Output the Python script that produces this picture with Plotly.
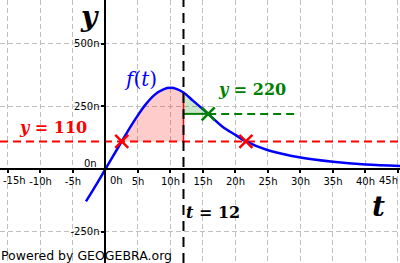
import plotly.graph_objects as go

# ---- data ----
t_vals = [-3, -2, -1, 0, 1, 2.5, 4, 5, 6, 7.5, 9, 10, 11, 12, 13.5, 15.8, 18, 20, 21.6, 25, 30, 35, 40, 45.5]
f_vals = [-129, -87, -44, 0, 44, 110, 175, 215, 252, 295, 319, 324, 319, 305, 272, 220, 169, 136, 110, 75, 46, 29, 18, 12]

x_ticks = [-15, -10, -5, 5, 10, 15, 20, 25, 30, 35, 40, 45]
x_ticktext = ["-15h", "-10h", "-5h", "5h", "10h", "15h", "20h", "25h", "30h", "35h", "40h", "45h"]
y_ticks = [-250, 250, 500]
y_ticktext = ["-250n", "250n", "500n"]

level_red = 110
level_green = 220
t_mark = 12
red_pts_t = [2.5, 21.6]
green_pt_t = 15.8
green_dash_end = 29.4

x_range = [-16.23, 45.31]
y_range = [-375.2, 674.6]

RED = "rgb(255,0,0)"
GREEN = "rgb(0,128,0)"
BLUE = "rgb(0,0,255)"

f_at = dict(zip(t_vals, f_vals))

fig = go.Figure()

# red shaded region between y=110 and f for 2.5 <= t <= 12
seg_r = [(t, f) for t, f in zip(t_vals, f_vals) if red_pts_t[0] <= t <= t_mark]
fig.add_trace(go.Scatter(x=[red_pts_t[0], t_mark], y=[level_red, level_red], mode="lines",
                         line=dict(width=0), hoverinfo="skip", showlegend=False))
fig.add_trace(go.Scatter(x=[p[0] for p in seg_r], y=[p[1] for p in seg_r], mode="lines",
                         line=dict(width=0, shape="spline"), fill="tonexty",
                         fillcolor="rgba(255,0,0,0.2)", hoverinfo="skip", showlegend=False))
# green shaded region between y=220 and f for 12 <= t <= 15.8
seg_g = [(t, f) for t, f in zip(t_vals, f_vals) if t_mark <= t <= green_pt_t]
fig.add_trace(go.Scatter(x=[t_mark, green_pt_t], y=[level_green, level_green], mode="lines",
                         line=dict(width=0), hoverinfo="skip", showlegend=False))
fig.add_trace(go.Scatter(x=[p[0] for p in seg_g], y=[p[1] for p in seg_g], mode="lines",
                         line=dict(width=0, shape="spline"), fill="tonexty",
                         fillcolor="rgba(0,128,0,0.2)", hoverinfo="skip", showlegend=False))

# red dashed line y=110
fig.add_trace(go.Scatter(x=x_range, y=[level_red, level_red], mode="lines",
                         line=dict(color=RED, width=2, dash="8px,5px"), showlegend=False))
# red vertical edge at t=12
fig.add_trace(go.Scatter(x=[t_mark, t_mark], y=[level_red, f_at[t_mark]], mode="lines",
                         line=dict(color=RED, width=1.5), showlegend=False))
# green solid segment + dashed continuation
fig.add_trace(go.Scatter(x=[t_mark, green_pt_t], y=[level_green, level_green], mode="lines",
                         line=dict(color=GREEN, width=2), showlegend=False))
fig.add_trace(go.Scatter(x=[green_pt_t, green_dash_end], y=[level_green, level_green], mode="lines",
                         line=dict(color=GREEN, width=2, dash="8px,5px"), showlegend=False))

# the curve f(t)
fig.add_trace(go.Scatter(x=t_vals, y=f_vals, mode="lines",
                         line=dict(color=BLUE, width=2.5, shape="spline"), showlegend=False))

# black dashed vertical t = 12
fig.add_trace(go.Scatter(x=[t_mark, t_mark], y=y_range, mode="lines",
                         line=dict(color="black", width=2, dash="10px,6px"), showlegend=False))

# markers
fig.add_trace(go.Scatter(x=red_pts_t, y=[level_red, level_red], mode="markers",
                         marker=dict(symbol="x-thin", size=13, line=dict(color=RED, width=2.5)),
                         showlegend=False))
fig.add_trace(go.Scatter(x=[green_pt_t], y=[level_green], mode="markers",
                         marker=dict(symbol="x-thin", size=13, line=dict(color=GREEN, width=2.5)),
                         showlegend=False))

xpos = (0 - x_range[0]) / (x_range[1] - x_range[0])
ypos = (0 - y_range[0]) / (y_range[1] - y_range[0])

tick_font = dict(family="DejaVu Sans", size=10, color="black")

fig.update_layout(
    width=400, height=263,
    margin=dict(l=0, r=0, t=0, b=0),
    paper_bgcolor="white", plot_bgcolor="white",
    xaxis=dict(range=x_range, tickvals=x_ticks, ticktext=x_ticktext,
               showgrid=True, gridcolor="rgb(192,192,192)", gridwidth=1, griddash="5px,3px",
               zeroline=False, showline=True, linecolor="black", linewidth=2,
               anchor="free", position=ypos, ticks="outside", ticklen=3, tickwidth=1.5,
               tickcolor="black", tickfont=tick_font, fixedrange=True),
    yaxis=dict(range=y_range, tickvals=y_ticks, ticktext=y_ticktext,
               showgrid=True, gridcolor="rgb(192,192,192)", gridwidth=1, griddash="5px,3px",
               zeroline=False, showline=True, linecolor="black", linewidth=2,
               anchor="free", position=xpos, ticks="outside", ticklen=3, tickwidth=1.5,
               tickcolor="black", tickfont=tick_font, fixedrange=True),
    showlegend=False,
)

serif_bi = "DejaVu Serif"
ann = [
    dict(x=0, y=0, text="0n", xanchor="right", yanchor="middle", xshift=-6, yshift=6,
         font=tick_font),
    dict(x=0, y=0, text="0h", xanchor="center", yanchor="middle", xshift=11, yshift=-11,
         font=tick_font),
    # edge tick labels that the axis drops because they overflow the plot, pulled inside
    dict(x=x_range[0], y=0, text=x_ticktext[0], xanchor="left", yanchor="middle",
         xshift=1, yshift=-11, font=tick_font),
    dict(x=x_range[1], y=0, text=x_ticktext[-1], xanchor="right", yanchor="middle",
         xshift=0, yshift=-11, font=tick_font),
    dict(x=0, y=y_range[1], text="<b><i>y</i></b>", xanchor="right", yanchor="top",
         xshift=-4, yshift=2, font=dict(family=serif_bi, size=28, color="black")),
    dict(x=x_range[1], y=0, text="<b><i>t</i></b>", xanchor="right", yanchor="top",
         xshift=-13, yshift=-19, font=dict(family=serif_bi, size=28, color="black")),
    dict(x=9.5, y=f_at[10], text="<i>f</i>(<i>t</i>)", xanchor="right", yanchor="bottom",
         xshift=-8, yshift=-5, font=dict(family=serif_bi, size=20, color=BLUE)),
    dict(x=green_pt_t, y=level_green, text="<b><i>y</i> = 220</b>", xanchor="left", yanchor="bottom",
         xshift=8, yshift=13, font=dict(family=serif_bi, size=16, color=GREEN)),
    dict(x=x_range[0], y=level_red, text="<b><i>y</i> = 110</b>", xanchor="left", yanchor="bottom",
         xshift=17, yshift=2, font=dict(family=serif_bi, size=16, color=RED)),
    dict(x=t_mark, y=0, text="<b><i>t</i> = 12</b>", xanchor="left", yanchor="top",
         xshift=1, yshift=-32, font=dict(family=serif_bi, size=16, color="black")),
    dict(x=0, y=0, xref="paper", yref="paper", text="Powered by GEOGEBRA.org",
         xanchor="left", yanchor="bottom", xshift=-1, yshift=-2,
         font=dict(family="DejaVu Sans", size=12.5, color="black")),
]
for a in ann:
    a.setdefault("xref", "x")
    a.setdefault("yref", "y")
    a["showarrow"] = False
    fig.add_annotation(**a)

fig.write_html("out.html")
